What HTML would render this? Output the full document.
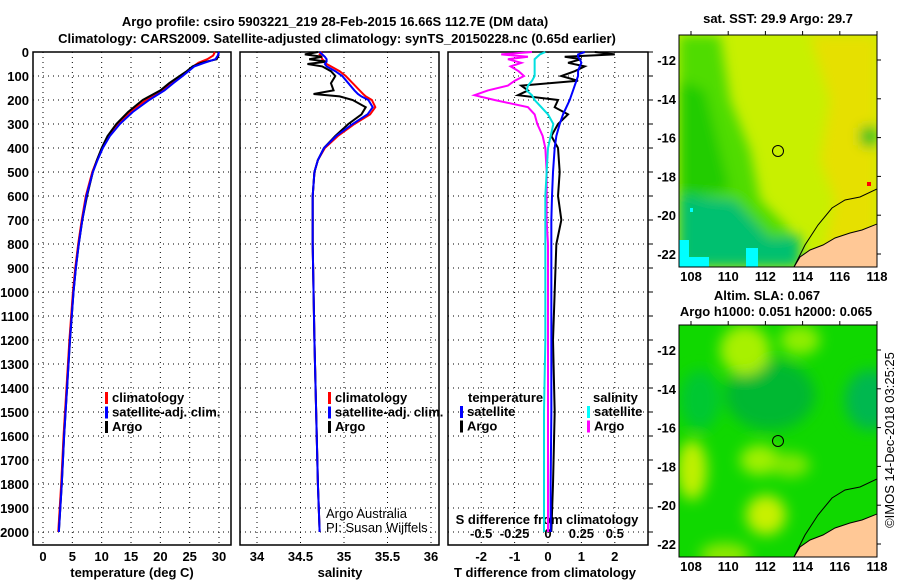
<!DOCTYPE html>
<html><head><meta charset="utf-8"><style>
body{margin:0;background:#fff;width:900px;height:580px;overflow:hidden}
text{font-family:"Liberation Sans",sans-serif;font-weight:bold;font-size:13px;fill:#000}
.n{font-weight:normal}
</style></head><body>
<svg id="fig" width="900" height="580" xmlns="http://www.w3.org/2000/svg">
<text x="335" y="26" text-anchor="middle" font-size="14">Argo profile: csiro 5903221_219 28-Feb-2015 16.66S 112.7E (DM data)</text>
<text x="337" y="43" text-anchor="middle" font-size="14">Climatology: CARS2009. Satellite-adjusted climatology: synTS_20150228.nc (0.65d earlier)</text>
<g id="p1"></g>
<g id="p2"></g>
<g id="p3"></g>
<g id="maps">
<defs>
<filter id="bl"><feGaussianBlur stdDeviation="7"/></filter>
<filter id="bl2"><feGaussianBlur stdDeviation="6"/></filter>
<clipPath id="c1"><rect x="679" y="35" width="198" height="232"/></clipPath>
<clipPath id="c2"><rect x="679" y="325" width="198" height="232"/></clipPath>
</defs>
<text x="778" y="23" text-anchor="middle">sat. SST: 29.9 Argo: 29.7</text>
<g clip-path="url(#c1)">
<rect x="679" y="35" width="198" height="232" fill="#c8f000"/>
<g filter="url(#bl2)">
<path d="M810,35 L877,35 L877,267 L820,267 L835,200 L820,160 L830,100 Z" fill="#e6e000"/>
<path d="M679,35 L720,35 L730,100 L750,150 L760,200 L790,230 L790,267 L679,267 Z" fill="#50dc00"/>
<path d="M679,80 L705,90 L720,150 L730,190 L679,200 Z" fill="#20cc00"/>
<path d="M679,195 L735,200 L770,238 L800,235 L800,267 L679,267 Z" fill="#00c070"/>
<path d="M860,128 L877,125 L877,148 L860,145 Z" fill="#30c020"/>
</g>
<rect x="679" y="240" width="10" height="27" fill="#00ffff"/>
<rect x="689" y="257" width="20" height="10" fill="#00ffff"/>
<rect x="746" y="248" width="12" height="19" fill="#00ffff"/>
<rect x="690" y="208" width="3" height="4" fill="#00ffff"/>
<rect x="867" y="182" width="4" height="4" fill="#ff0000"/>
<path d="M794,267 L800,257 L810,250 L823,245 L835,238 L850,233 L862,230 L877,224 L877,267 Z" fill="#ffc896" stroke="#000" stroke-width="1"/>
<path d="M794,267 L805,245 L818,225 L832,208 L845,200 L860,197 L877,189" fill="none" stroke="#000" stroke-width="1"/>
<circle cx="778" cy="151" r="5.5" fill="none" stroke="#000"/>
</g>
<rect x="679" y="35" width="198" height="232" fill="none" stroke="#000"/>
<text x="767" y="300" text-anchor="middle">Altim. SLA: 0.067</text>
<text x="776" y="316" text-anchor="middle">Argo h1000: 0.051 h2000: 0.065</text>
<g clip-path="url(#c2)">
<rect x="679" y="325" width="198" height="232" fill="#10d800"/>
<g filter="url(#bl)">
<ellipse cx="770" cy="395" rx="45" ry="35" fill="#00b830"/>
<ellipse cx="870" cy="400" rx="25" ry="30" fill="#00b850"/>
<ellipse cx="700" cy="400" rx="20" ry="30" fill="#00c830"/>
<ellipse cx="745" cy="350" rx="25" ry="25" fill="#a8f000"/>
<ellipse cx="800" cy="340" rx="20" ry="15" fill="#90ee00"/>
<ellipse cx="692" cy="470" rx="15" ry="30" fill="#c0f000"/>
<ellipse cx="760" cy="460" rx="20" ry="15" fill="#a0f000"/>
<ellipse cx="790" cy="465" rx="20" ry="12" fill="#80e800"/>
<ellipse cx="766" cy="515" rx="20" ry="20" fill="#c8f000"/>
<ellipse cx="725" cy="555" rx="25" ry="12" fill="#90e800"/>
</g>
<path d="M794,557 L800,547 L810,540 L823,535 L835,528 L850,523 L862,520 L877,514 L877,557 Z" fill="#ffc896" stroke="#000" stroke-width="1"/>
<path d="M794,557 L805,535 L818,515 L832,498 L845,490 L860,487 L877,479" fill="none" stroke="#000" stroke-width="1"/>
<circle cx="778" cy="441" r="5.5" fill="none" stroke="#000"/>
</g>
<rect x="679" y="325" width="198" height="232" fill="none" stroke="#000"/>
<text class="n" x="894" y="440" text-anchor="middle" transform="rotate(-90 894 440)" font-size="12">©IMOS 14-Dec-2018 03:25:25</text>
</g>
</svg>
<script>
// ---- data ----
const depthT = [0,15,30,45,60,80,100,130,160,200,250,300,350,400,450,500,600,700,800,900,1000,1200,1400,1600,1800,2000];
const tempArgo = [29.9,29.9,29.6,27,25.5,24.5,23.3,21.5,20,17,14.5,12.5,11,10,9.2,8.5,7.5,6.7,6.1,5.6,5.2,4.6,4.1,3.6,3.2,2.7];
const tempClim = [29.3,29,28,26.5,25.6,24.6,23.6,22,20.3,17.6,14.8,12.8,11.2,10.1,9.2,8.4,7.3,6.6,6.0,5.5,5.1,4.5,4.0,3.5,3.1,2.6];
const tempSat  = [30,29.8,29.4,27.5,25.8,24.8,23.8,22.2,20.7,18.1,15.3,13.1,11.4,10.2,9.3,8.5,7.4,6.7,6.1,5.6,5.2,4.6,4.1,3.6,3.2,2.7];
const depthS = [0,10,20,30,40,50,60,80,100,130,160,175,185,200,230,260,300,350,400,450,500,600,800,1000,1200,1500,1800,2000];
const salArgo = [34.7,34.55,34.75,34.6,34.8,34.58,34.75,34.85,34.9,34.85,34.88,34.65,34.95,35.1,35.25,35.2,35.05,34.9,34.77,34.7,34.66,34.64,34.64,34.65,34.66,34.68,34.7,34.72];
const salClim = [34.75,34.72,34.74,34.75,34.78,34.8,34.85,34.95,35.02,35.1,35.18,35.22,35.25,35.32,35.36,35.3,35.12,34.93,34.78,34.7,34.66,34.64,34.64,34.65,34.66,34.68,34.7,34.72];
const salSat  = [34.72,34.75,34.78,34.8,34.8,34.78,34.8,34.9,34.98,35.05,35.12,35.16,35.2,35.28,35.33,35.27,35.1,34.91,34.77,34.7,34.66,34.64,34.64,34.65,34.66,34.68,34.7,34.72];
const depthD = [0,10,20,30,45,60,80,100,120,140,160,180,200,230,260,300,350,400,500,600,700,800,1000,1200,1500,1800,2000];
const tdArgo = [1.4,2.0,0.5,1.0,0.6,1.1,0.8,0.4,0.9,-0.8,-0.6,-0.9,0.3,0.2,0.6,0.3,0.1,0.3,0.35,0.3,0.4,0.25,0.2,0.15,0.2,0.15,0.1];
const tdSat  = [1.1,0.9,0.9,0.95,1.0,0.95,0.9,0.9,0.85,0.8,0.75,0.7,0.65,0.55,0.45,0.35,0.25,0.2,0.15,0.12,0.1,0.1,0.1,0.1,0.1,0.08,0.08];
const sdArgo = [-0.12,-0.35,-0.15,-0.3,-0.2,-0.28,-0.22,-0.18,-0.25,-0.3,-0.45,-0.55,-0.4,-0.15,-0.1,-0.08,-0.04,-0.02,-0.01,-0.01,-0.01,0,0,0,0,0,0];
const sdSat  = [-0.02,-0.06,-0.08,-0.1,-0.1,-0.1,-0.1,-0.1,-0.12,-0.15,-0.16,-0.12,-0.1,-0.05,0,0.04,0.02,0,-0.01,-0.02,-0.02,-0.02,-0.02,-0.02,-0.03,-0.03,-0.03];
const depthTicks = [0,100,200,300,400,500,600,700,800,900,1000,1100,1200,1300,1400,1500,1600,1700,1800,1900,2000];
const tTicks = [0,5,10,15,20,25,30];
const sTicks = [34,34.5,35,35.5,36];
const tdTicks = [-2,-1,0,1,2];
const sdTicks = [-0.5,-0.25,0,0.25,0.5];
const latTicks = [-12,-14,-16,-18,-20,-22];
const lonTicks = [108,110,112,114,116,118];

const NS='http://www.w3.org/2000/svg';
function mk(parent,tag,attrs){const e=document.createElementNS(NS,tag);for(const k in attrs)e.setAttribute(k,attrs[k]);parent.appendChild(e);return e;}
function txt(parent,x,y,s,anchor,cls){const e=mk(parent,'text',{x:x,y:y,'text-anchor':anchor||'middle'});if(cls)e.setAttribute('class',cls);e.textContent=s;return e;}
const yD=d=>52+d*0.24;
const TOP=52,BOT=545;

function panel(g,x0,x1,xs,ticks,fmt,leftLabels,rightTicks){
  mk(g,'rect',{x:x0,y:TOP,width:x1-x0,height:BOT-TOP,fill:'#fff'});
  ticks.forEach(v=>{const x=xs(v);mk(g,'line',{x1:x,x2:x,y1:TOP,y2:BOT,stroke:'#000','stroke-dasharray':'1,4'});});
  depthTicks.forEach(d=>{mk(g,'line',{x1:x0,x2:x1,y1:yD(d),y2:yD(d),stroke:'#000','stroke-dasharray':'1,4'});
    if(leftLabels){const t=txt(g,x0-4,yD(d)+5,String(d),'end');}
    if(rightTicks)mk(g,'line',{x1:x1,x2:x1+5,y1:yD(d),y2:yD(d),stroke:'#000'});});
  mk(g,'rect',{x:x0,y:TOP,width:x1-x0,height:BOT-TOP,fill:'none',stroke:'#000','stroke-width':1.5});
}
function line(g,xs,vals,depths,color,w,name){
  const p=mk(g,'polyline',{points:vals.map((v,i)=>xs(v)+','+yD(depths[i])).join(' '),fill:'none',stroke:color,'stroke-width':w});
  
  
}
function legend(g,x,y,items){items.forEach((it,i)=>{mk(g,'rect',{x:x,y:y+i*14.5-10,width:3,height:12,fill:it[1]});
  const t=txt(g,x+7,y+i*14.5,it[0],'start');});}

// panel 1
const p1=document.getElementById('p1');
const xT=v=>43+v*5.867;
panel(p1,33,231,xT,tTicks,null,true,false);
tTicks.forEach(v=>txt(p1,xT(v),561,String(v)));
txt(p1,132,577,'temperature (deg C)');
line(p1,xT,tempClim,depthT,'#ff0000',2,'climatology-temperature-line');
line(p1,xT,tempArgo,depthT,'#000',2,'argo-temperature-line');
line(p1,xT,tempSat,depthT,'#0000ff',2,'satellite-temperature-line');
legend(p1,105,402,[['climatology','#f00'],['satellite-adj. clim.','#00f'],['Argo','#000']]);

// panel 2
const p2=document.getElementById('p2');
const xS=v=>257+(v-34)*87;
panel(p2,240,439,xS,sTicks,null,false,false);
sTicks.forEach(v=>txt(p2,xS(v),561,String(v)));
txt(p2,340,577,'salinity');
line(p2,xS,salClim,depthS,'#ff0000',2,'climatology-salinity-line');
line(p2,xS,salArgo,depthS,'#000',2,'argo-salinity-line');
line(p2,xS,salSat,depthS,'#0000ff',2,'satellite-salinity-line');
legend(p2,328,402,[['climatology','#f00'],['satellite-adj. clim.','#00f'],['Argo','#000']]);
txt(p2,326,518,'Argo Australia','start','n');
txt(p2,326,532,'PI: Susan Wijffels','start','n');

// panel 3
const p3=document.getElementById('p3');
const xTD=v=>548+v*33.4;
const xSD=v=>548+v*133.6;
panel(p3,448,648,xTD,tdTicks,null,false,true);
tdTicks.forEach(v=>txt(p3,xTD(v),561,String(v)));
sdTicks.forEach(v=>txt(p3,xSD(v),538,String(v)));
txt(p3,547,524,'S difference from climatology');
txt(p3,545,577,'T difference from climatology');
line(p3,xTD,tdArgo,depthD,'#000',2,'argo-t-diff-line');
line(p3,xTD,tdSat,depthD,'#0000ff',2,'satellite-t-diff-line');
line(p3,xSD,sdArgo,depthD,'#ff00ff',2,'argo-s-diff-line');
line(p3,xSD,sdSat,depthD,'#00e0e0',2,'satellite-s-diff-line');
txt(p3,468,402,'temperature','start');
legend(p3,460,416,[['satellite','#00f'],['Argo','#000']]);
txt(p3,593,402,'salinity','start');
legend(p3,587,416,[['satellite','#0ff'],['Argo','#f0f']]);

// map axes
const maps=document.getElementById('maps');
const xL=v=>691+(v-108)*18.6;
[[35,267,0],[325,557,290]].forEach(([t,b,off])=>{
  latTicks.forEach(v=>{const y=60+(-12-v)*19.4+off;txt(maps,676,y+5,String(v),'end');
    mk(maps,'line',{x1:877,x2:881,y1:y,y2:y,stroke:'#000'});});
  lonTicks.forEach(v=>{const x=xL(v);txt(maps,x,b+14,String(v));
    mk(maps,'line',{x1:x,x2:x,y1:t-4,y2:t,stroke:'#000'});});
});
</script>
</body></html>
